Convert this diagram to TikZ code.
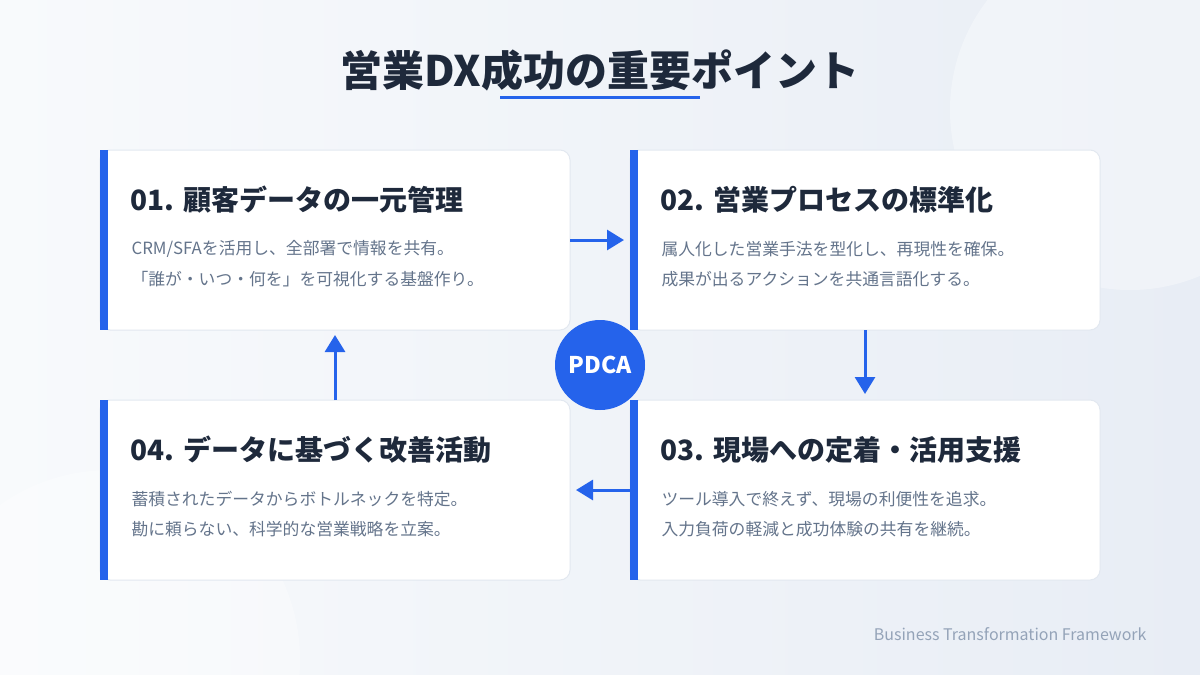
\documentclass[tikz,border=0pt]{standalone}
\usepackage{fontspec}
\setmainfont{Noto Sans CJK JP}
\usetikzlibrary{arrows.meta}
\definecolor{navy}{HTML}{1E293B}
\definecolor{bluem}{HTML}{2563EB}
\definecolor{grayt}{HTML}{64748B}
\definecolor{grayl}{HTML}{94A3B8}
\definecolor{bord}{HTML}{E2E8F0}
\definecolor{bgA}{HTML}{F8FAFC}
\definecolor{bgB}{HTML}{E8EDF5}
\tikzset{
 card/.style={draw=bord,line width=1pt,fill=white,rounded corners=10pt},
 bar/.style={fill=bluem},
 ctitle/.style={anchor=west,text=navy,font=\fontsize{28}{32}\selectfont\bfseries},
 cbody/.style={anchor=west,text=grayt,font=\fontsize{16.8}{20}\selectfont},
 arr/.style={draw=bluem,line width=3pt,-{Triangle[length=17pt,width=20pt]}}
}
\begin{document}
\begin{tikzpicture}[x=1pt,y=-1pt]
\useasboundingbox (0,0) rectangle (1200,675);
\shade[left color=bgA,right color=bgB] (0,0) rectangle (1200,675);
\begin{scope}
\clip (0,0) rectangle (1200,675);
\fill[white,opacity=0.35] (1130,110) circle (180);
\fill[white,opacity=0.35] (110,660) circle (190);
\end{scope}
\node[text=navy,font=\fontsize{42}{46}\selectfont\bfseries] (title) at (600,70) {営業DX成功の重要ポイント};
\draw[bluem,line width=3pt] (500,97) -- (700,97);
% cards
\draw[card] (100,150) rectangle (570,330); \fill[bar] (100,150) rectangle (108,330);
\draw[card] (630,150) rectangle (1100,330); \fill[bar] (630,150) rectangle (638,330);
\draw[card] (630,400) rectangle (1100,580); \fill[bar] (630,400) rectangle (638,580);
\draw[card] (100,400) rectangle (570,580); \fill[bar] (100,400) rectangle (108,580);
\node[ctitle] (t1) at (127,200) {01. 顧客データの一元管理};
\node[cbody] (b1a) at (128,249) {CRM/SFAを活用し、全部署で情報を共有。};
\node[cbody] (b1b) at (128,279) {「誰が・いつ・何を」を可視化する基盤作り。};
\node[ctitle] (t2) at (657,200) {02. 営業プロセスの標準化};
\node[cbody] (b2a) at (658,249) {属人化した営業手法を型化し、再現性を確保。};
\node[cbody] (b2b) at (658,279) {成果が出るアクションを共通言語化する。};
\node[ctitle] (t3) at (657,450) {03. 現場への定着・活用支援};
\node[cbody] (b3a) at (658,499) {ツール導入で終えず、現場の利便性を追求。};
\node[cbody] (b3b) at (658,529) {入力負荷の軽減と成功体験の共有を継続。};
\node[ctitle] (t4) at (127,450) {04. データに基づく改善活動};
\node[cbody] (b4a) at (128,499) {蓄積されたデータからボトルネックを特定。};
\node[cbody] (b4b) at (128,529) {勘に頼らない、科学的な営業戦略を立案。};
% arrows
\coordinate (a1) at (570,240); \coordinate (a1e) at (624,240);
\coordinate (a2) at (865,330); \coordinate (a2e) at (865,394);
\coordinate (a3) at (630,490); \coordinate (a3e) at (576,490);
\coordinate (a4) at (335,400); \coordinate (a4e) at (335,335);
\draw[arr] (a1) -- (a1e);
\draw[arr] (a2) -- (a2e);
\draw[arr] (a3) -- (a3e);
\draw[arr] (a4) -- (a4e);
\node[circle,fill=bluem,minimum size=90pt,inner sep=0pt,text=white,font=\fontsize{23}{26}\selectfont\bfseries] (pdca) at (600,365) {PDCA};
\node[anchor=east,text=grayl,font=\fontsize{16}{18}\selectfont] (foot) at (1150,634) {Business Transformation Framework};
\end{tikzpicture}
\end{document}
